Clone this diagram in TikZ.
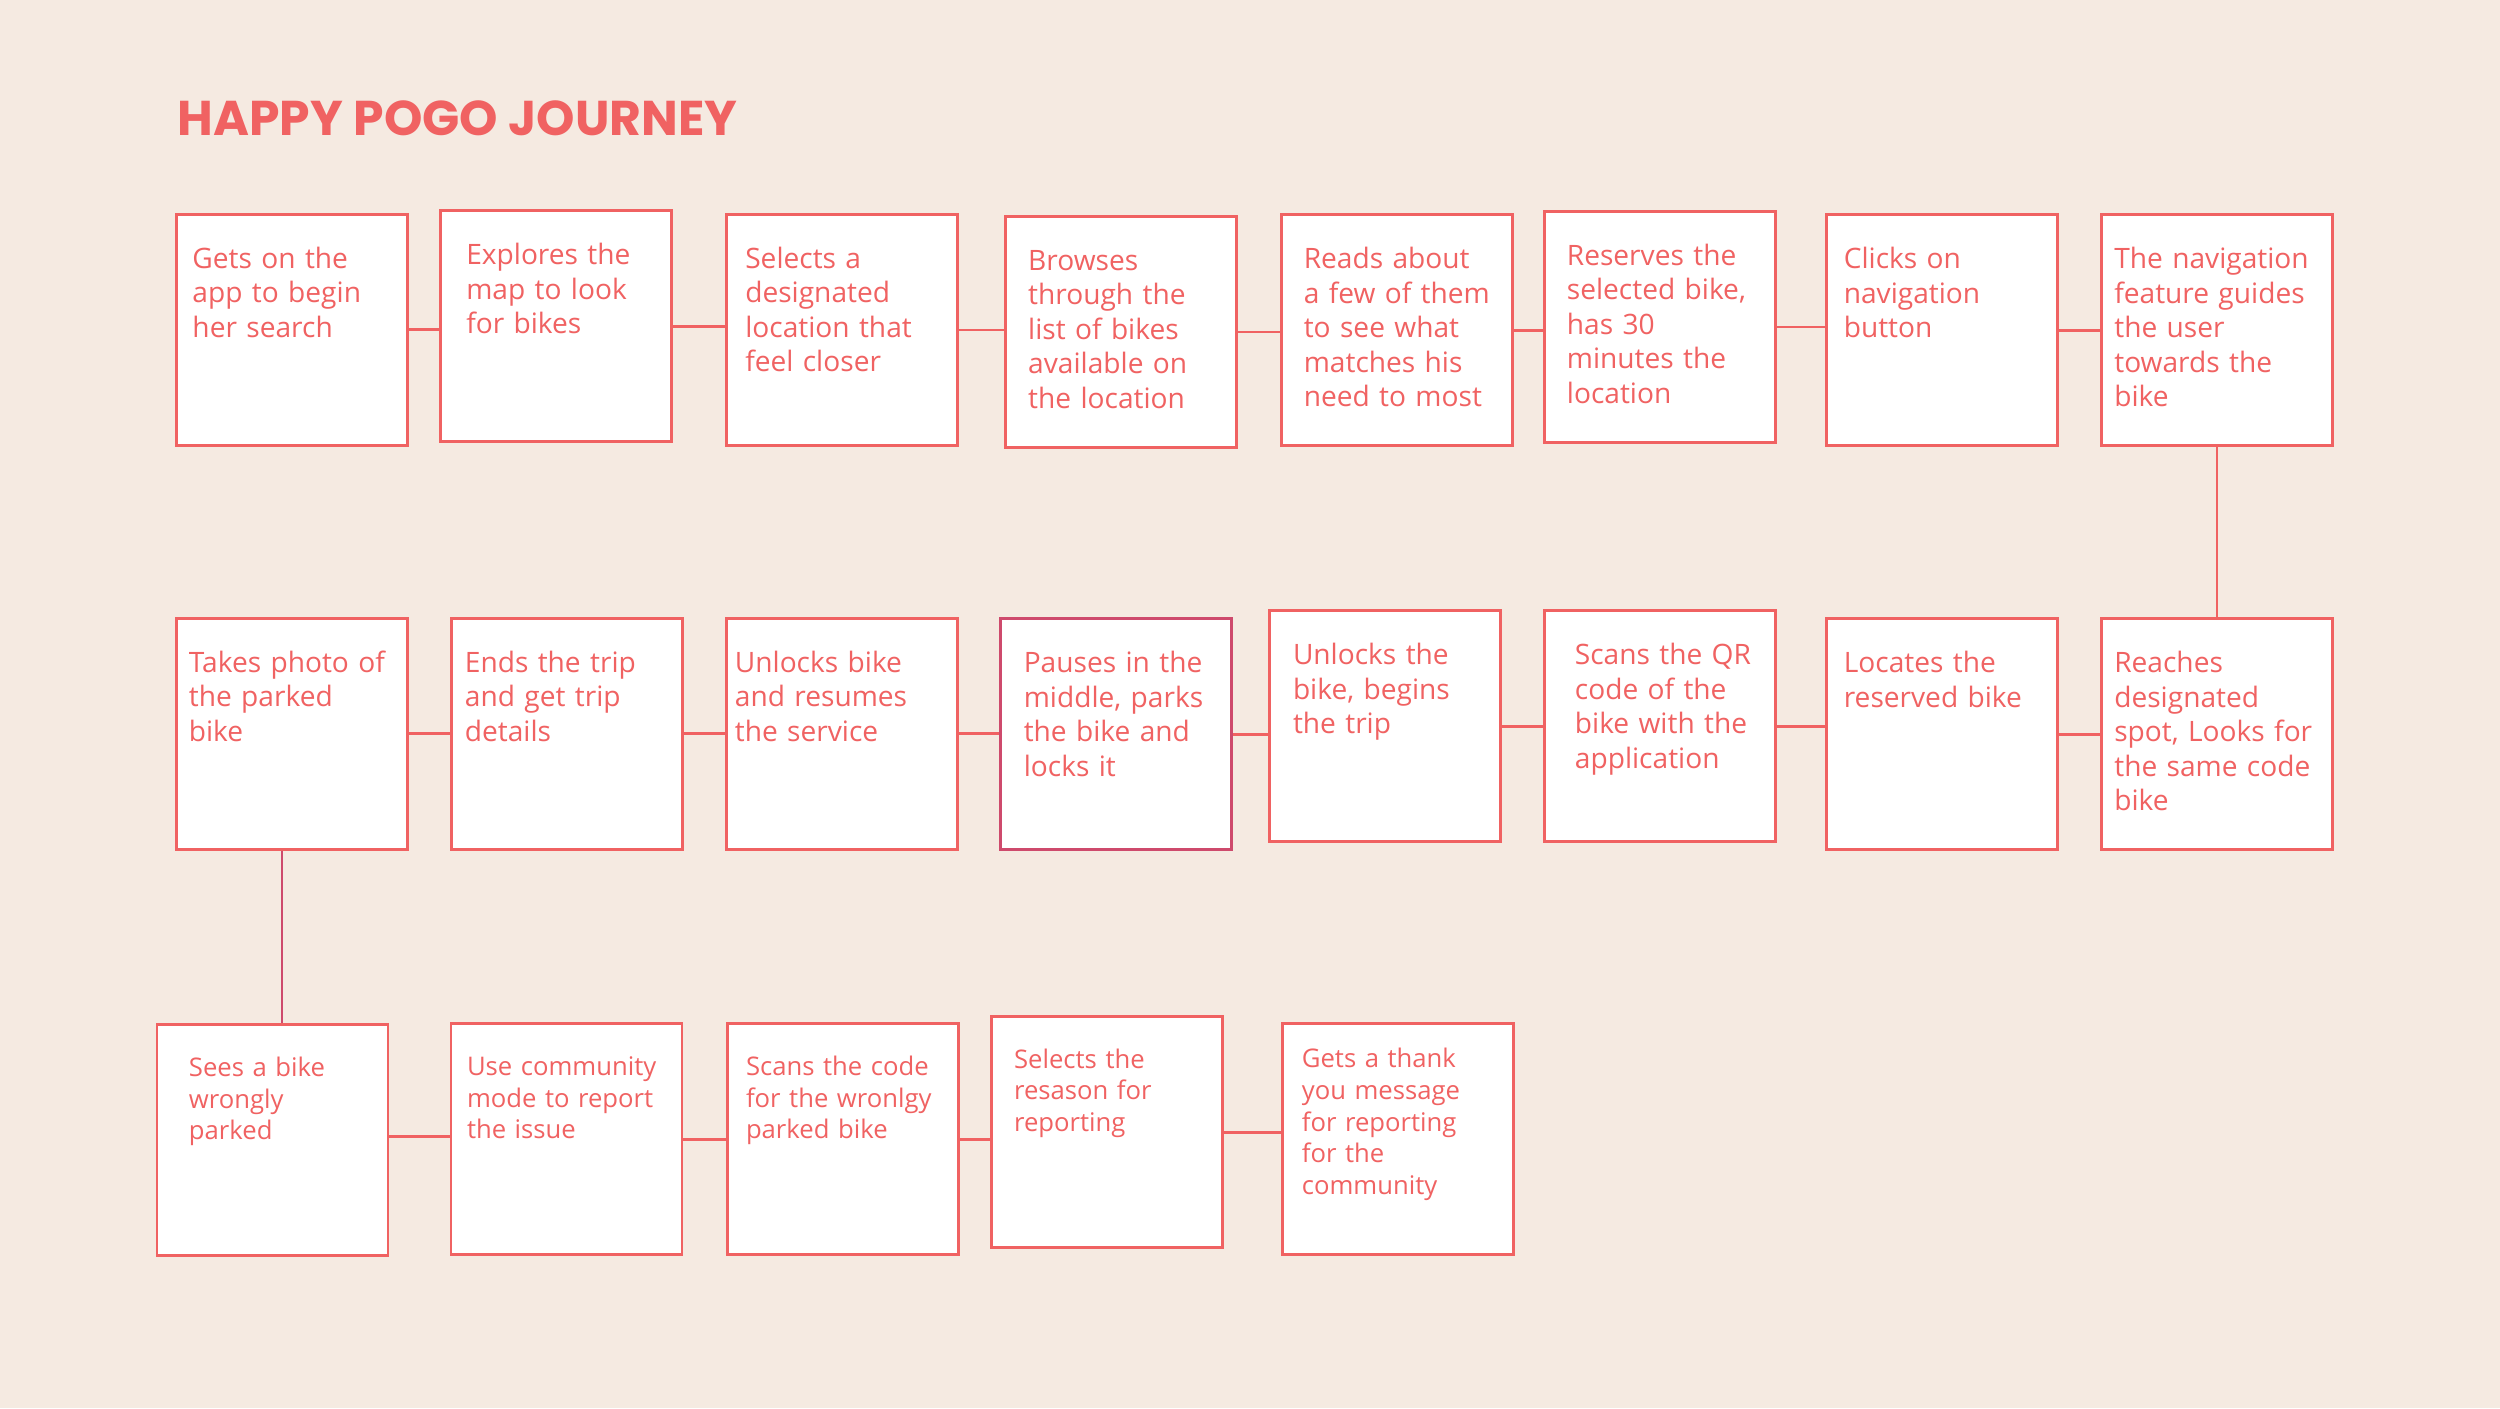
\documentclass[tikz,border=0pt]{standalone}
\usepackage{fontspec}
\setmainfont{Open Sans}
\newfontfamily\titlefont{Poppins}
\definecolor{pogobg}{RGB}{245,234,225}
\definecolor{pogored}{RGB}{240,98,98}
\definecolor{pogodark}{RGB}{206,74,108}
\begin{document}
\begin{tikzpicture}[
  box/.style={draw=pogored, fill=white, line width=0.85pt, anchor=north west,
    inner sep=0pt, text width=2.31cm, align=left, text=pogored,
    text height=0.54cm, text depth=1.77cm,
    font=\fontsize{8}{9.8}\selectfont},
  stepbox/.style={execute at begin node={\leftskip=#1}},
  stepbox/.default=0.18cm,
  smallbox/.style={font=\fontsize{7.3}{9}\selectfont, text height=0.517cm, text depth=1.793cm},
  link/.style={draw=pogored, line width=0.85pt}]
\useasboundingbox (0,0) rectangle (25,-14.08);
\fill[pogobg] (0,0) rectangle (25,-14.08);

\node[anchor=base west, inner sep=0pt, text=pogored, font=\titlefont\bfseries\fontsize{13.9}{16}\selectfont] (title) at (1.77,-1.35) {HAPPY POGO JOURNEY};

% first row
\node[box, stepbox=0.156cm] (A1) at (1.754,-2.127) {Gets on the\\app to begin\\her search};
\node[box, stepbox=0.255cm] (A2) at (4.393,-2.093) {Explores the\\map to look\\for bikes};
\node[box, stepbox=0.184cm] (A3) at (7.254,-2.130) {Selects a\\designated\\location that\\feel closer};
\node[box, stepbox=0.23cm] (A4) at (10.037,-2.150) {Browses\\through the\\list of bikes\\available on\\the location};
\node[box, stepbox=0.22cm] (A5) at (12.803,-2.133) {Reads about\\a few of them\\to see what\\matches his\\need to most};
\node[box, stepbox=0.22cm] (A6) at (15.434,-2.100) {Reserves the\\selected bike,\\has 30\\minutes the\\location};
\node[box, stepbox=0.175cm] (A7) at (18.248,-2.133) {Clicks on\\navigation\\button};
\node[box, stepbox=0.13cm] (A8) at (20.998,-2.133) {The navigation\\feature guides\\the user\\towards the\\bike};

% second row
\node[box, stepbox=0.12cm] (B1) at (1.754,-6.167) {Takes photo of\\the parked\\bike};
\node[box, stepbox=0.13cm] (B2) at (4.504,-6.167) {Ends the trip\\and get trip\\details};
\node[box, stepbox=0.08cm] (B3) at (7.254,-6.167) {Unlocks bike\\and resumes\\the service};
\node[box, stepbox=0.23cm, draw=pogodark] (B4) at (9.993,-6.173) {Pauses in the\\middle, parks\\the bike and\\locks it};
\node[box, stepbox=0.24cm] (B5) at (12.675,-6.093) {Unlocks the\\bike, begins\\the trip};
\node[box, stepbox=0.30cm] (B6) at (15.434,-6.093) {Scans the QR\\code of the\\bike with the\\application};
\node[box, stepbox=0.175cm] (B7) at (18.248,-6.173) {Locates the\\reserved bike};
\node[box, stepbox=0.13cm] (B8) at (20.998,-6.173) {Reaches\\designated\\spot, Looks for\\the same code\\bike};

% third row
\node[box, smallbox, stepbox=0.32cm] (C1) at (1.555,-10.233) {Sees a bike\\wrongly\\parked};
\node[box, smallbox, stepbox=0.16cm] (C2) at (4.495,-10.223) {Use community\\mode to report\\the issue};
\node[box, smallbox, stepbox=0.185cm] (C3) at (7.26,-10.223) {Scans the code\\for the wronlgy\\parked bike};
\node[box, smallbox, stepbox=0.23cm] (C4) at (9.896,-10.15) {Selects the\\resason for\\reporting};
\node[box, smallbox, stepbox=0.195cm, text height=0.44cm, text depth=1.87cm] (C5) at (12.809,-10.223) {Gets a thank\\you message\\for reporting\\for the\\community};

\draw[link] (A1.east) -- (A1.east -| A2.west);
\draw[link] (A2.east) -- (A2.east -| A3.west);
\draw[link] (A3.east) -- (A3.east -| A4.west);
\draw[link] (A4.east) -- (A4.east -| A5.west);
\draw[link] (A5.east) -- (A5.east -| A6.west);
\draw[link] (A6.east) -- (A6.east -| A7.west);
\draw[link] (A7.east) -- (A7.east -| A8.west);
\draw[link, line width=0.6pt] (A8.south) -- (A8.south |- B8.north);

\draw[link] (B1.east) -- (B1.east -| B2.west);
\draw[link] (B2.east) -- (B2.east -| B3.west);
\draw[link] (B3.east) -- (B3.east -| B4.west);
\draw[link] (B4.east) -- (B4.east -| B5.west);
\draw[link] (B5.east) -- (B5.east -| B6.west);
\draw[link] (B6.east) -- (B6.east -| B7.west);
\draw[link] (B7.east) -- (B7.east -| B8.west);
\draw[link, draw=pogodark, line width=0.6pt] ([xshift=-1.06mm]B1.south) -- ([xshift=-1.06mm]B1.south |- C1.north);

\draw[link] ([yshift=1pt]C1.east) -- ([yshift=1pt]C1.east -| C2.west);
\draw[link] (C2.east) -- (C2.east -| C3.west);
\draw[link] (C3.east) -- (C3.east -| C4.west);
\draw[link] (C4.east) -- (C4.east -| C5.west);
\end{tikzpicture}
\end{document}
